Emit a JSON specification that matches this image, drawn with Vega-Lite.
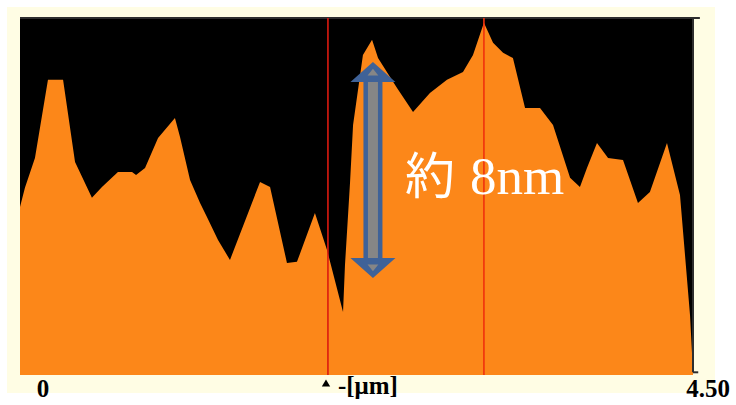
{
  "$schema": "https://vega.github.io/schema/vega-lite/v6.json",
  "width": 673,
  "height": 357,
  "autosize": "none",
  "padding": {"left": 20, "top": 18, "right": 43, "bottom": 30},
  "background": "#ffffff",
  "view": {"stroke": null, "fill": null},
  "datasets": {
    "profile": [
      {"x": 0.000, "y": 6.22}, {"x": 0.033, "y": 6.93}, {"x": 0.100, "y": 8.04},
      {"x": 0.187, "y": 10.93}, {"x": 0.288, "y": 10.93}, {"x": 0.368, "y": 7.89},
      {"x": 0.481, "y": 6.56}, {"x": 0.548, "y": 6.96}, {"x": 0.655, "y": 7.52},
      {"x": 0.749, "y": 7.52}, {"x": 0.776, "y": 7.41}, {"x": 0.836, "y": 7.67},
      {"x": 0.923, "y": 8.78}, {"x": 1.036, "y": 9.52}, {"x": 1.070, "y": 8.81},
      {"x": 1.137, "y": 7.22}, {"x": 1.204, "y": 6.37}, {"x": 1.250, "y": 5.85},
      {"x": 1.324, "y": 5.00}, {"x": 1.404, "y": 4.26}, {"x": 1.605, "y": 7.15},
      {"x": 1.672, "y": 6.96}, {"x": 1.785, "y": 4.15}, {"x": 1.852, "y": 4.19},
      {"x": 1.972, "y": 6.00}, {"x": 2.053, "y": 4.63}, {"x": 2.160, "y": 2.33},
      {"x": 2.173, "y": 4.07}, {"x": 2.207, "y": 7.15}, {"x": 2.227, "y": 9.26},
      {"x": 2.293, "y": 11.85}, {"x": 2.354, "y": 12.41}, {"x": 2.394, "y": 11.74},
      {"x": 2.521, "y": 10.63}, {"x": 2.628, "y": 9.74}, {"x": 2.741, "y": 10.44},
      {"x": 2.855, "y": 10.93}, {"x": 2.962, "y": 11.22}, {"x": 3.029, "y": 11.85},
      {"x": 3.102, "y": 13.04}, {"x": 3.163, "y": 12.30}, {"x": 3.230, "y": 11.93},
      {"x": 3.296, "y": 11.74}, {"x": 3.377, "y": 9.89}, {"x": 3.477, "y": 9.89},
      {"x": 3.564, "y": 9.26}, {"x": 3.678, "y": 7.30}, {"x": 3.744, "y": 6.96},
      {"x": 3.791, "y": 7.67}, {"x": 3.858, "y": 8.59}, {"x": 3.932, "y": 8.04},
      {"x": 4.032, "y": 7.96}, {"x": 4.132, "y": 6.37}, {"x": 4.212, "y": 6.78},
      {"x": 4.326, "y": 8.59}, {"x": 4.413, "y": 6.67}, {"x": 4.480, "y": 2.22},
      {"x": 4.500, "y": 0.11}
    ],
    "cursors": [
      {"x": 2.059, "y": 0, "y2": 13.22, "cursor": "left"},
      {"x": 3.102, "y": 0, "y2": 13.22, "cursor": "right"}
    ],
    "step": [
      {"x": 2.36, "top": 11.59, "bottom": 3.59}
    ],
    "note": [
      {"x": 2.574, "y": 6.70, "prefix": "約", "amount": "8nm"}
    ]
  },
  "encoding": {
    "x": {"field": "x", "type": "quantitative", "axis": null,
          "scale": {"domain": [0, 4.5], "nice": false, "zero": false}},
    "y": {"field": "y", "type": "quantitative", "axis": null,
          "scale": {"domain": [0, 13.22], "nice": false, "zero": false}}
  },
  "layer": [
    {
      "data": {"values": [{"x": -0.087, "x2": 4.647, "y": -0.667, "y2": 13.63}]},
      "mark": {"type": "rect", "color": "#fffde4"},
      "encoding": {"x2": {"field": "x2"}, "y2": {"field": "y2"}}
    },
    {
      "data": {"values": [{"x": 0, "x2": 4.5, "y": 0, "y2": 13.22}]},
      "mark": {"type": "rect", "color": "#000000"},
      "encoding": {"x2": {"field": "x2"}, "y2": {"field": "y2"}}
    },
    {
      "data": {"name": "profile"},
      "mark": {"type": "area", "color": "#fc8719", "interpolate": "linear", "opacity": 1}
    },
    {
      "data": {"values": [
        {"x": 0, "x2": 4.546, "y": 13.22, "y2": 13.22},
        {"x": 4.5, "x2": 4.5, "y": 0.1, "y2": 13.22},
        {"x": 4.5, "x2": 4.535, "y": 0.1, "y2": 0.1}
      ]},
      "mark": {"type": "rule", "color": "#2e2e2e", "strokeWidth": 2},
      "encoding": {"x2": {"field": "x2"}, "y2": {"field": "y2"}}
    },
    {
      "data": {"name": "cursors"},
      "mark": {"type": "rule", "strokeWidth": 1.6},
      "encoding": {
        "y2": {"field": "y2"},
        "color": {"field": "cursor", "type": "nominal", "legend": null,
                  "scale": {"domain": ["left", "right"], "range": ["#dc1a10", "#f0320c"]}}
      }
    },
    {
      "data": {"name": "step"},
      "mark": {"type": "rule", "color": "#3f6298", "strokeWidth": 19, "strokeCap": "butt",
               "yOffset": 18, "y2Offset": -18},
      "encoding": {"y": {"field": "top", "type": "quantitative"}, "y2": {"field": "bottom"}}
    },
    {
      "data": {"name": "step"},
      "mark": {"type": "rule", "color": "#868686", "strokeWidth": 10, "strokeCap": "butt",
               "yOffset": 12, "y2Offset": -12},
      "encoding": {"y": {"field": "top", "type": "quantitative"}, "y2": {"field": "bottom"}}
    },
    {
      "data": {"name": "step"},
      "mark": {"type": "point", "filled": true, "opacity": 1, "color": "#3f6298",
               "shape": "M0,0L1,0.89L-1,0.89Z", "size": 2025, "strokeWidth": 0},
      "encoding": {"y": {"field": "top", "type": "quantitative"}}
    },
    {
      "data": {"name": "step"},
      "mark": {"type": "point", "filled": true, "opacity": 1, "color": "#3f6298",
               "shape": "M0,0L1,-0.89L-1,-0.89Z", "size": 2025, "strokeWidth": 0},
      "encoding": {"y": {"field": "bottom", "type": "quantitative"}}
    },
    {
      "data": {"name": "step"},
      "mark": {"type": "point", "filled": true, "opacity": 1, "color": "#868686",
               "shape": "M0,0.3L0.24,0.6L-0.24,0.6Z", "size": 2025, "strokeWidth": 0},
      "encoding": {"y": {"field": "top", "type": "quantitative"}}
    },
    {
      "data": {"name": "step"},
      "mark": {"type": "point", "filled": true, "opacity": 1, "color": "#868686",
               "shape": "M0,-0.3L0.24,-0.6L-0.24,-0.6Z", "size": 2025, "strokeWidth": 0},
      "encoding": {"y": {"field": "bottom", "type": "quantitative"}}
    },
    {
      "data": {"name": "note"},
      "mark": {"type": "text", "color": "#ffffff", "align": "left", "baseline": "alphabetic",
               "font": "Noto Sans CJK JP", "fontSize": 50},
      "encoding": {"text": {"field": "prefix"}}
    },
    {
      "data": {"name": "note"},
      "mark": {"type": "text", "color": "#ffffff", "align": "left", "baseline": "alphabetic",
               "font": "serif", "fontSize": 53, "dx": 65},
      "encoding": {"text": {"field": "amount"}}
    },
    {
      "data": {"values": [{"x": 0, "y": 0, "label": "0"}]},
      "mark": {"type": "text", "color": "#000000", "align": "center", "baseline": "alphabetic",
               "font": "Times New Roman", "fontWeight": "bold", "fontSize": 25, "dx": 23, "dy": 22},
      "encoding": {"text": {"field": "label"}}
    },
    {
      "data": {"values": [{"x": 4.5, "y": 0, "label": "4.50"}]},
      "mark": {"type": "text", "color": "#000000", "align": "center", "baseline": "alphabetic",
               "font": "Times New Roman", "fontWeight": "bold", "fontSize": 25, "dx": 15, "dy": 22},
      "encoding": {"text": {"field": "label"}}
    },
    {
      "data": {"values": [{"x": 2.126, "y": 0, "label": "-[μm]"}]},
      "mark": {"type": "text", "color": "#000000", "align": "left", "baseline": "alphabetic",
               "font": "Times New Roman", "fontWeight": "bold", "fontSize": 25, "dy": 19},
      "encoding": {"text": {"field": "label"}}
    },
    {
      "data": {"values": [{"x": 2.046, "y": 0}]},
      "mark": {"type": "point", "shape": "triangle-up", "filled": true, "opacity": 1,
               "color": "#000000", "size": 70, "yOffset": 8}
    }
  ]
}
